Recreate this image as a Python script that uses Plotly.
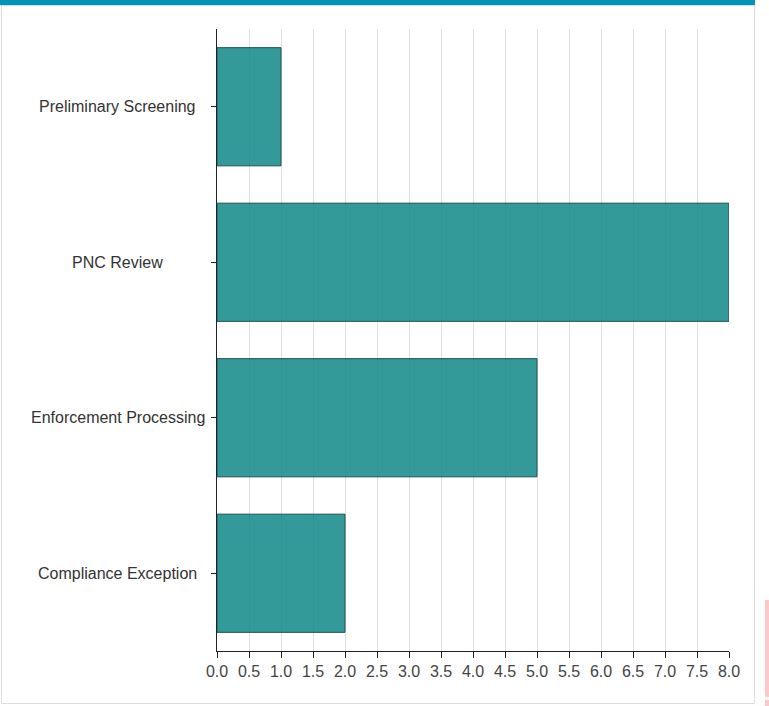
import plotly.graph_objects as go

categories = ["Preliminary Screening", "PNC Review", "Enforcement Processing", "Compliance Exception"]
values = [1, 8, 5, 2]
x_ticks = [i * 0.5 for i in range(17)]

W, H = 769, 706
L, R, T, B = 217, 729, 29, 651

def px(x):
    return (x - L) / (R - L)

def py(y):
    return (B - y) / (B - T)

fig = go.Figure()
fig.add_trace(go.Bar(
    y=categories, x=values, orientation="h",
    marker=dict(color="rgba(0,128,128,0.8)", line=dict(color="#1f4f4f", width=1)),
    width=0.76, hoverinfo="skip",
))

annotations = [
    dict(x=px(117.5), y=c, xref="paper", yref="y", text=c, showarrow=False,
         xanchor="center", yanchor="middle",
         font=dict(family="Liberation Sans, Arial", size=16, color="#333"))
    for c in categories
]

shapes = [
    # container border
    dict(type="rect", xref="paper", yref="paper", x0=px(1.5), x1=px(754.5), y0=py(703.5), y1=py(3),
         line=dict(color="#dddddd", width=1), fillcolor="rgba(0,0,0,0)", layer="below"),
    # top accent bar
    dict(type="rect", xref="paper", yref="paper", x0=px(0), x1=px(755), y0=py(5), y1=py(0),
         line=dict(width=0), fillcolor="#0095b6"),
    dict(type="rect", xref="paper", yref="paper", x0=px(0), x1=px(755), y0=py(6), y1=py(5),
         line=dict(width=0), fillcolor="#bfe6ee"),
    # side artifact
    dict(type="rect", xref="paper", yref="paper", x0=px(765), x1=px(769), y0=py(697), y1=py(600),
         line=dict(width=0), fillcolor="#fcc8c8"),
    dict(type="rect", xref="paper", yref="paper", x0=px(765), x1=px(769), y0=py(706), y1=py(700),
         line=dict(width=0), fillcolor="#fcc8c8"),
]

fig.update_layout(
    width=W, height=H,
    margin=dict(l=L, r=W - R, t=T, b=H - B, pad=0),
    paper_bgcolor="white", plot_bgcolor="white",
    showlegend=False,
    annotations=annotations,
    shapes=shapes,
    font=dict(family="Liberation Sans, Arial", size=16, color="#444"),
    xaxis=dict(
        range=[0, 8], tickvals=x_ticks, ticktext=[f"{v:.1f}" for v in x_ticks],
        showgrid=True, gridcolor="#e0e0e0", gridwidth=1,
        showline=True, linecolor="#222", linewidth=1,
        ticks="outside", ticklen=6, tickcolor="#222", tickwidth=1,
        zeroline=False, fixedrange=True,
        tickfont=dict(size=16, color="#444"),
    ),
    yaxis=dict(
        categoryorder="array", categoryarray=categories,
        range=[3.5, -0.5],
        showticklabels=False,
        showgrid=False,
        showline=True, linecolor="#222", linewidth=1,
        ticks="outside", ticklen=5, tickcolor="#222", tickwidth=1,
        zeroline=False, fixedrange=True,
    ),
)

fig.write_html(
    "out.html",
    config={"displayModeBar": False},
    post_script="document.body.style.margin='0';document.body.style.overflow='hidden';",
)
